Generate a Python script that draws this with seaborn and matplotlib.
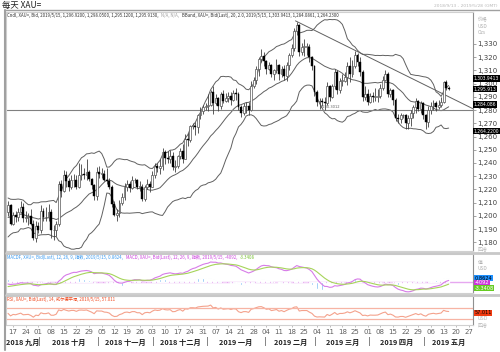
import numpy as np
import pandas as pd
import matplotlib
matplotlib.use("Agg")
import matplotlib.pyplot as plt
import seaborn as sns

# Tageskerzen XAU= 13.09.2018 - 15.05.2019 (Werktage)
dates = pd.bdate_range("2018-09-13", "2019-05-15")

opens = [
    1203, 1208,
    1194, 1201, 1199, 1203, 1207,
    1198, 1199, 1200, 1194, 1183,
    1192, 1189, 1204, 1199, 1199,
    1203, 1189, 1189, 1194, 1224,
    1219, 1231, 1226, 1222, 1227,
    1227, 1222, 1231, 1232, 1231,
    1233, 1228, 1223, 1215, 1233,
    1232, 1232, 1227, 1226, 1222,
    1209, 1201, 1202, 1210, 1214,
    1222, 1224, 1221, 1227, 1227,
    1222, 1222, 1213, 1222, 1224,
    1222, 1231, 1238, 1236, 1238,
    1248, 1244, 1243, 1245, 1237,
    1238, 1245, 1249, 1243, 1258,
    1257, 1268, 1268, 1267, 1276,
    1279, 1282, 1283, 1284, 1294,
    1285, 1289, 1283, 1292, 1287,
    1289, 1291, 1288, 1293, 1292,
    1282, 1278, 1283, 1283, 1280,
    1298, 1303, 1311, 1319, 1321,
    1317, 1311, 1314, 1307, 1310,
    1314, 1307, 1311, 1306, 1314,
    1322, 1327, 1340, 1344, 1324,
    1328, 1328, 1328, 1320, 1313,
    1294, 1286, 1287, 1286, 1285,
    1298, 1290, 1298, 1309, 1295,
    1302, 1302, 1305, 1313, 1307,
    1313, 1322, 1316, 1309, 1290,
    1292, 1286, 1291, 1290, 1290,
    1291, 1297, 1303, 1307, 1292,
    1295, 1288, 1274, 1273, 1276,
    1276, 1270, 1274, 1278, 1282,
    1287, 1281, 1285, 1276, 1271,
    1280, 1283, 1285, 1282, 1284,
    1286, 1301, 1296.92,
]
highs = [
    1211, 1209,
    1203, 1204, 1206, 1211, 1210,
    1204, 1202, 1205, 1197, 1196,
    1195, 1208, 1206, 1207, 1209,
    1205, 1193, 1196, 1226, 1227,
    1235, 1234, 1229, 1231, 1232,
    1231, 1240, 1239, 1236, 1243,
    1235, 1229, 1224, 1237, 1238,
    1236, 1235, 1236, 1229, 1223,
    1211, 1205, 1212, 1217, 1225,
    1227, 1226, 1230, 1229, 1228,
    1226, 1224, 1223, 1228, 1226,
    1234, 1240, 1240, 1243, 1251,
    1250, 1249, 1250, 1248, 1242,
    1246, 1251, 1254, 1262, 1263,
    1269, 1270, 1271, 1277, 1282,
    1284, 1285, 1292, 1295, 1298,
    1292, 1290, 1294, 1295, 1293,
    1294, 1294, 1295, 1297, 1294,
    1284, 1285, 1286, 1286, 1302,
    1305, 1313, 1320, 1326, 1324,
    1318, 1316, 1315, 1311, 1319,
    1315, 1313, 1314, 1316, 1323,
    1330, 1342, 1347, 1345, 1331,
    1334, 1331, 1330, 1321, 1314,
    1295, 1289, 1289, 1290, 1301,
    1299, 1300, 1311, 1310, 1304,
    1307, 1309, 1316, 1320, 1318,
    1325, 1323, 1320, 1310, 1298,
    1296, 1293, 1294, 1297, 1296,
    1300, 1306, 1310, 1309, 1297,
    1296, 1289, 1277, 1278, 1277,
    1277, 1276, 1280, 1284, 1289,
    1288, 1287, 1286, 1277, 1283,
    1286, 1288, 1287, 1288, 1290,
    1302, 1302.5, 1298.05,
]
lows = [
    1200, 1193,
    1193, 1195, 1196, 1202, 1195,
    1195, 1193, 1193, 1182, 1180,
    1187, 1187, 1196, 1196, 1196,
    1183, 1182, 1185, 1192, 1214,
    1218, 1222, 1219, 1220, 1222,
    1220, 1221, 1227, 1228, 1227,
    1226, 1220, 1212, 1212, 1229,
    1229, 1226, 1224, 1220, 1207,
    1200, 1196, 1199, 1208, 1212,
    1219, 1218, 1220, 1225, 1220,
    1219, 1211, 1211, 1220, 1218,
    1222, 1229, 1233, 1232, 1235,
    1239, 1240, 1240, 1235, 1233,
    1236, 1243, 1240, 1243, 1253,
    1256, 1266, 1261, 1263, 1273,
    1277, 1280, 1279, 1283, 1277,
    1284, 1279, 1281, 1285, 1286,
    1286, 1284, 1287, 1288, 1280,
    1275, 1276, 1278, 1276, 1279,
    1297, 1300, 1306, 1316, 1313,
    1307, 1310, 1305, 1303, 1308,
    1303, 1305, 1303, 1302, 1310,
    1320, 1325, 1337, 1321, 1322,
    1321, 1322, 1316, 1310, 1291,
    1283, 1281, 1283, 1280, 1284,
    1287, 1289, 1296, 1292, 1293,
    1298, 1301, 1299, 1301, 1305,
    1312, 1313, 1306, 1287, 1288,
    1284, 1285, 1286, 1287, 1286,
    1289, 1295, 1302, 1290, 1290,
    1284, 1272, 1270, 1270, 1274,
    1266, 1266, 1268, 1274, 1278,
    1279, 1278, 1273, 1266, 1267,
    1277, 1280, 1279, 1281, 1282,
    1285, 1295, 1295.12,
]
closes = [
    1208, 1194,
    1201, 1199, 1203, 1207, 1198,
    1199, 1200, 1194, 1183, 1192,
    1189, 1204, 1199, 1199, 1203,
    1189, 1189, 1194, 1224, 1219,
    1231, 1226, 1222, 1227, 1227,
    1222, 1231, 1232, 1231, 1233,
    1228, 1223, 1215, 1233, 1232,
    1232, 1227, 1226, 1222, 1209,
    1201, 1202, 1210, 1214, 1222,
    1224, 1221, 1227, 1227, 1222,
    1222, 1213, 1222, 1224, 1222,
    1231, 1238, 1236, 1238, 1248,
    1244, 1243, 1245, 1237, 1238,
    1245, 1249, 1243, 1258, 1257,
    1268, 1268, 1267, 1276, 1279,
    1282, 1283, 1284, 1294, 1285,
    1289, 1283, 1292, 1287, 1289,
    1291, 1288, 1293, 1292, 1282,
    1278, 1283, 1283, 1280, 1298,
    1303, 1311, 1319, 1321, 1317,
    1311, 1314, 1307, 1310, 1314,
    1307, 1311, 1306, 1314, 1322,
    1327, 1340, 1344, 1324, 1328,
    1328, 1328, 1320, 1313, 1294,
    1286, 1287, 1286, 1285, 1298,
    1290, 1298, 1309, 1295, 1302,
    1302, 1305, 1313, 1307, 1313,
    1322, 1316, 1309, 1290, 1292,
    1286, 1291, 1290, 1290, 1291,
    1297, 1303, 1307, 1292, 1295,
    1288, 1274, 1273, 1276, 1276,
    1270, 1274, 1278, 1282, 1287,
    1281, 1285, 1276, 1271, 1280,
    1283, 1285, 1282, 1284, 1286,
    1301, 1297, 1295.913,
]
# Schlusskurse 16.07. - 12.09.2018, nur fuer den Vorlauf der Indikatoren
warmup_closes = [
    1239, 1228, 1225, 1224, 1231, 1224, 1227, 1231, 1223, 1223,
    1220, 1224, 1216, 1208, 1214, 1209, 1210, 1214, 1212, 1211,
    1193, 1193, 1174, 1177, 1184, 1190, 1196, 1195, 1187, 1206,
    1212, 1210, 1201, 1201, 1201, 1200, 1193, 1197, 1199, 1196,
    1195, 1195, 1209,
]

price_ticks = list(range(1180, 1331, 10))
last_labels = [1303.9413, 1295.913, 1284.086, 1264.22]
last_texts = ["1,303.9413", "1,295.913", "1,284.086", "1,264.2200"]
hline_price = 1280.3012
trend_from = ("2019-02-20", 1347.5)
trend_to_price = 1281.0
month_names = ["2018 九月", "2018 十月", "2018 十一月", "2018 十二月", "2019 一月",
               "2019 二月", "2019 三月", "2019 四月", "2019 五月"]
macd_boxes = ["0.8624", "-4092", "-3.3408"]
rsi_box = "57.011"

# Indikatoren
allc = pd.Series(warmup_closes + closes, dtype=float)
mid = allc.rolling(20).mean()
sd = allc.rolling(20).std(ddof=0)
upper, lower = mid + 2 * sd, mid - 2 * sd
ema12 = allc.ewm(span=12, adjust=False).mean()
ema26 = allc.ewm(span=26, adjust=False).mean()
macd = ema12 - ema26
signal = macd.ewm(span=9, adjust=False).mean()
hist = macd - signal
delta = allc.diff()
gain = delta.clip(lower=0).ewm(alpha=1 / 14, adjust=False).mean()
loss = (-delta.clip(upper=0)).ewm(alpha=1 / 14, adjust=False).mean()
rsi = 100 - 100 / (1 + gain / loss)

n = len(closes)
nw = len(warmup_closes)
df = pd.DataFrame({
    "x": np.arange(n), "open": opens, "high": highs, "low": lows, "close": closes,
    "upper": upper[nw:].values, "mid": mid[nw:].values, "lower": lower[nw:].values,
    "macd": macd[nw:].values, "signal": signal[nw:].values, "hist": hist[nw:].values,
    "rsi": rsi[nw:].values,
})

full_days = pd.bdate_range("2018-09-13", "2019-05-31")
xmin, xmax = -0.8, 183.6

sns.set_theme(style="white")
plt.rcParams["font.family"] = ["DejaVu Sans", "Noto Sans CJK SC"]
cjk = ["Noto Sans CJK SC", "DejaVu Sans"]

fig = plt.figure(figsize=(5, 3.52), dpi=100)
W, H = 500, 352


def box(top, bottom, left=6, right=473):
    return [left / W, 1 - bottom / H, (right - left) / W, (bottom - top) / H]


def fx_of(i):
    return (6 + (i - xmin) / (xmax - xmin) * 467) / W


ax = fig.add_axes(box(12, 251))
ax_m = fig.add_axes(box(254, 293))
ax_r = fig.add_axes(box(296, 325))

for a in (ax, ax_m, ax_r):
    a.set_xlim(xmin, xmax)
    for s in ("left", "top", "bottom"):
        a.spines[s].set_color("#d0d0d0")
        a.spines[s].set_linewidth(0.8)
    a.spines["right"].set_color("#909090")
    a.spines["right"].set_linewidth(0.8)
    a.set_xticks([])

# Kerzen
up = df[df["close"] >= df["open"]]
down = df[df["close"] < df["open"]]
ax.vlines(df["x"], df["low"], df["high"], color="#404040", lw=0.6, zorder=2)
ax.bar(up["x"], (up["close"] - up["open"]).clip(lower=0.4), bottom=up["open"], width=0.75,
       color="white", edgecolor="#555555", linewidth=0.5, zorder=3)
ax.bar(down["x"], down["open"] - down["close"], bottom=down["close"], width=0.75,
       color="black", edgecolor="black", linewidth=0.3, zorder=3)

for col in ("upper", "mid", "lower"):
    sns.lineplot(data=df, x="x", y=col, ax=ax, color="#606060", lw=0.7, zorder=1)

ax.axhline(hline_price, color="#808080", lw=0.8, zorder=1)
ax.text(dates.get_loc("2019-03-05"), hline_price + 0.4, "1,280.3012", fontsize=2.6,
        color="#606060", va="bottom")
t0 = full_days.get_loc(trend_from[0])
ax.plot([t0 - 0.5, xmax], [trend_from[1], trend_to_price], color="#606060", lw=0.7, zorder=1)

ax.set_ylim(1173.4, 1354.2)
ax.yaxis.tick_right()
ax.set_yticks(price_ticks)
ax.set_yticklabels([f"{v:,}" for v in price_ticks])
ax.tick_params(axis="y", right=True, length=2, width=0.5, color="#808080",
               labelsize=5, labelcolor="#404040", pad=1)
ax.set_xlabel("")
ax.set_ylabel("")

for v, t in zip(last_labels, last_texts):
    ax.annotate(t, xy=(1.0, v), xycoords=("axes fraction", "data"), xytext=(0.6, 0),
                textcoords="offset points", fontsize=3.25, color="white", va="center",
                ha="left", zorder=10,
                bbox=dict(boxstyle="square,pad=0.2", fc="black", ec="none"),
                annotation_clip=False)

# MACD
ax_m.bar(df["x"], df["hist"], width=0.45, color="#6cb4f4", zorder=2)
ax_m.axhline(0, color="#e6a8f0", lw=1.0, zorder=1)
sns.lineplot(data=df, x="x", y="macd", ax=ax_m, color="#d77ce8", lw=0.8, zorder=3)
sns.lineplot(data=df, x="x", y="signal", ax=ax_m, color="#a6d45a", lw=0.8, zorder=3)
ax_m.set_ylim(-8.5, 21)
ax_m.set_yticks([])
ax_m.set_xlabel("")
ax_m.set_ylabel("")

# RSI
sns.lineplot(data=df, x="x", y="rsi", ax=ax_r, color="#f4a28c", lw=0.8)
ax_r.axhline(70, color="#f7b4a4", lw=0.9)
ax_r.axhline(30, color="#f7b4a4", lw=0.9)
ax_r.set_ylim(8, 112)
ax_r.set_yticks([])
ax_r.set_xlabel("")
ax_r.set_ylabel("")

# x-Achse: Montage und Monate
mondays = [i for i, d in enumerate(full_days) if d.weekday() == 0 and xmin < i < xmax]
ax_r.set_xticks(mondays)
ax_r.set_xticklabels([full_days[i].strftime("%d") for i in mondays])
ax_r.tick_params(axis="x", bottom=True, length=1.5, width=0.5, color="#a0a0a0",
                 labelsize=5, labelcolor="#606060", pad=1.5)

month_start = [i for i in range(1, len(full_days)) if full_days[i].month != full_days[i - 1].month]
edges = [xmin] + [i + 0.5 for i in month_start] + [xmax]
for k, name in enumerate(month_names):
    c = (edges[k] + edges[k + 1]) / 2
    fig.text(fx_of(c), 1 - 342 / H, name, fontsize=5.2, fontweight="bold", family=cjk,
             ha="center", va="center", color="#202020")
for e in edges[1:-1]:
    fig.text(fx_of(e), 1 - 342 / H, "|", fontsize=5.5, ha="center", va="center", color="#404040")

# Rahmen und Trennbalken
fig.add_artist(plt.Line2D([5 / W, 5 / W], [1 - 10 / H, 1 - 350 / H], color="#a0a0a0", lw=1.5))
fig.add_artist(plt.Line2D([5 / W, 1], [1 - 10 / H, 1 - 10 / H], color="#a0a0a0", lw=1.0))
for yy in (252.5, 294.5):
    fig.add_artist(plt.Line2D([6 / W, 1], [1 - yy / H] * 2, color="#c8c8c8", lw=2.0))

# Texte
fig.text(2 / W, 1 - 5 / H, "每天 XAU=", fontsize=6, family=cjk, va="center", color="#202020")
fig.text(497 / W, 1 - 6 / H, "2018/9/13 - 2019/5/28 (GMT)", fontsize=3.2, ha="right",
         va="center", color="#b8b8b8")
for k, t in enumerate(["价格", "USD", "Ozs"]):
    fig.text(478 / W, 1 - (20 + 6 * k) / H, t, fontsize=3.5, family=cjk, va="center",
             color="#b0b0b0")
fig.text(478 / W, 1 - 249 / H, "四捨", fontsize=3.5, family=cjk, va="center", color="#b8b8b8")
for k, t in enumerate(["值", "USD"]):
    fig.text(478 / W, 1 - (263 + 6 * k) / H, t, fontsize=3.5, family=cjk, va="center",
             color="#b0b0b0")
for k, (t, c) in enumerate(zip(macd_boxes, ["#1e90ff", "#cc33dd", "#66cc22"])):
    fig.text(474.5 / W, 1 - (278 + 5 * k) / H, t, fontsize=3.6,
             color="black" if k == 0 else "white", va="center",
             bbox=dict(boxstyle="square,pad=0.1", fc=c, ec="none"))
fig.text(474.5 / W, 1 - 313 / H, rsi_box, fontsize=3.6, color="black", va="center",
         bbox=dict(boxstyle="square,pad=0.1", fc="#f03a10", ec="none"))
fig.text(478 / W, 1 - 319 / H, "USD", fontsize=3.5, va="center", color="#b8b8b8")
fig.text(478 / W, 1 - 325 / H, "四捨", fontsize=3.5, family=cjk, va="center", color="#b8b8b8")


def chain(a, y, pieces, size):
    # Legendenzeile aus farbigen Stuecken, jedes rechts an das vorige gehaengt
    prev = None
    for txt, col in pieces:
        if prev is None:
            prev = fig.text(7 / W, 1 - y / H, txt, fontsize=size, color=col, va="center",
                            family=cjk)
        else:
            prev = a.annotate(txt, xy=(1, 0.5), xycoords=prev, xytext=(2, 0),
                              textcoords="offset points", fontsize=size, color=col,
                              va="center", ha="left", family=cjk, annotation_clip=False)


chain(ax, 15.5, [("Cndl, XAU=, Bid, 2019/5/15, 1,296.9200, 1,298.0500, 1,295.1200, 1,295.9130,", "#303030"),
                 ("N/A, N/A,", "#a0a0a0"),
                 ("BBand, XAU=, Bid(Last), 20, 2.0, 2019/5/15, 1,303.9413, 1,284.0861, 1,264.2300", "#303030")], 3.1)
chain(ax_m, 257.5, [("MACDF, XAU=, Bid(Last), 12, 26, 9, 指数, 2019/5/15, 0.8624,", "#3a9af0"),
                    ("MACD, XAU=, Bid(Last), 12, 26, 9, 指数, 2019/5/15, -4092,", "#cc44dd"),
                    ("-3.3408", "#77c030")], 3.1)
chain(ax_r, 299.5, [("RSI, XAU=, Bid(Last), 14, 威尔德平滑, 2019/5/15, 57.011", "#f04a20")], 3.1)

fig.savefig("out.png", dpi=100)
